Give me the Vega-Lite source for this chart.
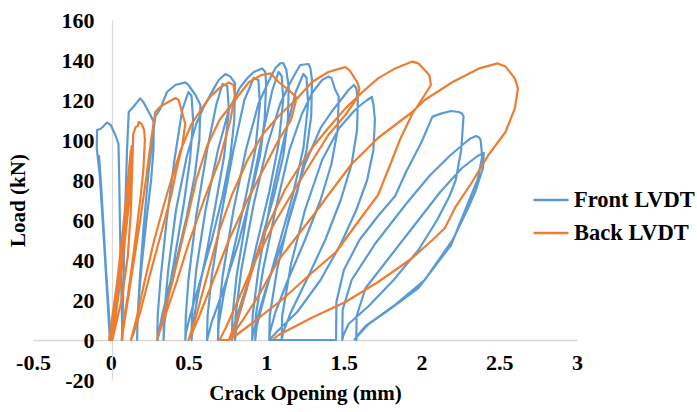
{
  "$schema": "https://vega.github.io/schema/vega-lite/v6.json",
  "width": 544,
  "height": 360,
  "autosize": {"type": "none"},
  "padding": {"left": 33, "top": 20, "right": 120, "bottom": 32},
  "background": "white",
  "config": {
    "view": {"stroke": null},
    "font": "Liberation Serif",
    "axis": {
      "labelFont": "Liberation Serif", "labelFontWeight": "bold", "labelFontSize": 22, "labelColor": "#000000",
      "titleFont": "Liberation Serif", "titleFontWeight": "bold", "titleFontSize": 21, "titleColor": "#000000",
      "grid": false, "ticks": false, "tickSize": 0,
      "domainColor": "#D9D9D9", "domainWidth": 1.3,
      "labelFlush": false, "labelOverlap": false, "labelBound": false
    },
    "legend": {
      "labelFont": "Liberation Serif", "labelFontWeight": "bold", "labelFontSize": 22.5, "labelColor": "#000000"
    }
  },
  "datasets": {
    "front": [
      {"t":1,"x":0,"y":0},{"t":2,"x":-0.03,"y":35},{"t":3,"x":-0.06,"y":75},{"t":4,"x":-0.075,"y":92},{"t":5,"x":-0.05,"y":60},{"t":6,"x":-0.02,"y":20},{"t":7,"x":-0.005,"y":0},{"t":8,"x":-0.04,"y":45},{"t":9,"x":-0.07,"y":82},{"t":10,"x":-0.09,"y":96},{"t":11,"x":-0.088,"y":105},{"t":12,"x":-0.066,"y":105.5},{"t":13,"x":-0.045,"y":107},{"t":14,"x":-0.024,"y":108.7},{"t":15,"x":0,"y":107.5},{"t":16,"x":0.03,"y":102.5},{"t":17,"x":0.05,"y":98},{"t":18,"x":0.055,"y":80},{"t":19,"x":0.06,"y":55},{"t":20,"x":0.067,"y":30},{"t":21,"x":0.072,"y":12},{"t":22,"x":0.075,"y":0},
      {"t":23,"x":0.077,"y":12},{"t":24,"x":0.085,"y":40},{"t":25,"x":0.095,"y":70},{"t":26,"x":0.105,"y":95},{"t":27,"x":0.116,"y":114},{"t":28,"x":0.15,"y":117},{"t":29,"x":0.19,"y":120.8},{"t":30,"x":0.21,"y":119},{"t":31,"x":0.255,"y":112.5},{"t":32,"x":0.277,"y":109},{"t":33,"x":0.275,"y":95},{"t":34,"x":0.26,"y":80},{"t":35,"x":0.23,"y":60},{"t":36,"x":0.2,"y":38},{"t":37,"x":0.18,"y":20},{"t":38,"x":0.172,"y":8},{"t":39,"x":0.17,"y":0},
      {"t":40,"x":0.172,"y":10},{"t":41,"x":0.185,"y":28},{"t":42,"x":0.21,"y":55},{"t":43,"x":0.245,"y":85},{"t":44,"x":0.287,"y":111.7},{"t":45,"x":0.32,"y":115.8},{"t":46,"x":0.362,"y":124},{"t":47,"x":0.416,"y":127.5},{"t":48,"x":0.48,"y":128.8},{"t":49,"x":0.5,"y":127.5},{"t":50,"x":0.545,"y":122.5},{"t":51,"x":0.577,"y":117.5},{"t":52,"x":0.57,"y":100},{"t":53,"x":0.54,"y":82},{"t":54,"x":0.49,"y":62},{"t":55,"x":0.43,"y":42},{"t":56,"x":0.37,"y":25},{"t":57,"x":0.33,"y":12},{"t":58,"x":0.31,"y":4},{"t":59,"x":0.3,"y":0},
      {"t":60,"x":0.302,"y":12},{"t":61,"x":0.32,"y":30},{"t":62,"x":0.36,"y":60},{"t":63,"x":0.41,"y":90},{"t":64,"x":0.46,"y":115},{"t":65,"x":0.5,"y":124},{"t":66,"x":0.52,"y":122},{"t":67,"x":0.53,"y":110},{"t":68,"x":0.51,"y":90},{"t":69,"x":0.47,"y":68},{"t":70,"x":0.42,"y":45},{"t":71,"x":0.37,"y":22},{"t":72,"x":0.345,"y":8},{"t":73,"x":0.34,"y":0},
      {"t":74,"x":0.343,"y":12},{"t":75,"x":0.37,"y":35},{"t":76,"x":0.42,"y":65},{"t":77,"x":0.49,"y":92},{"t":78,"x":0.55,"y":108},{"t":79,"x":0.6,"y":116.7},{"t":80,"x":0.67,"y":126.7},{"t":81,"x":0.695,"y":130},{"t":82,"x":0.738,"y":133},{"t":83,"x":0.77,"y":131.7},{"t":84,"x":0.8,"y":128.3},{"t":85,"x":0.795,"y":110},{"t":86,"x":0.77,"y":92},{"t":87,"x":0.72,"y":72},{"t":88,"x":0.65,"y":50},{"t":89,"x":0.57,"y":28},{"t":90,"x":0.51,"y":12},{"t":91,"x":0.485,"y":4},{"t":92,"x":0.48,"y":0},
      {"t":93,"x":0.483,"y":12},{"t":94,"x":0.5,"y":30},{"t":95,"x":0.55,"y":62},{"t":96,"x":0.62,"y":95},{"t":97,"x":0.68,"y":118},{"t":98,"x":0.72,"y":128},{"t":99,"x":0.75,"y":127},{"t":100,"x":0.76,"y":115},{"t":101,"x":0.73,"y":92},{"t":102,"x":0.68,"y":70},{"t":103,"x":0.62,"y":45},{"t":104,"x":0.56,"y":22},{"t":105,"x":0.53,"y":8},{"t":106,"x":0.52,"y":0},
      {"t":107,"x":0.523,"y":12},{"t":108,"x":0.55,"y":35},{"t":109,"x":0.61,"y":65},{"t":110,"x":0.69,"y":95},{"t":111,"x":0.76,"y":115},{"t":112,"x":0.83,"y":126},{"t":113,"x":0.88,"y":131},{"t":114,"x":0.92,"y":134},{"t":115,"x":0.974,"y":135.8},{"t":116,"x":0.995,"y":134},{"t":117,"x":1,"y":128},{"t":118,"x":0.99,"y":110},{"t":119,"x":0.96,"y":92},{"t":120,"x":0.9,"y":72},{"t":121,"x":0.82,"y":48},{"t":122,"x":0.72,"y":24},{"t":123,"x":0.65,"y":9},{"t":124,"x":0.63,"y":3},{"t":125,"x":0.62,"y":0},
      {"t":126,"x":0.623,"y":12},{"t":127,"x":0.65,"y":32},{"t":128,"x":0.71,"y":62},{"t":129,"x":0.79,"y":95},{"t":130,"x":0.86,"y":120},{"t":131,"x":0.92,"y":131},{"t":132,"x":0.95,"y":130},{"t":133,"x":0.96,"y":118},{"t":134,"x":0.93,"y":95},{"t":135,"x":0.87,"y":72},{"t":136,"x":0.8,"y":48},{"t":137,"x":0.73,"y":24},{"t":138,"x":0.695,"y":8},{"t":139,"x":0.69,"y":0},
      {"t":140,"x":0.693,"y":12},{"t":141,"x":0.72,"y":32},{"t":142,"x":0.79,"y":65},{"t":143,"x":0.87,"y":95},{"t":144,"x":0.95,"y":118},{"t":145,"x":1.02,"y":130},{"t":146,"x":1.06,"y":136},{"t":147,"x":1.09,"y":138.3},{"t":148,"x":1.11,"y":138.5},{"t":149,"x":1.13,"y":135},{"t":150,"x":1.145,"y":126.5},{"t":151,"x":1.14,"y":110},{"t":152,"x":1.11,"y":92},{"t":153,"x":1.05,"y":72},{"t":154,"x":0.97,"y":50},{"t":155,"x":0.87,"y":26},{"t":156,"x":0.8,"y":9},{"t":157,"x":0.785,"y":3},{"t":158,"x":0.78,"y":0},
      {"t":159,"x":0.783,"y":12},{"t":160,"x":0.81,"y":32},{"t":161,"x":0.88,"y":65},{"t":162,"x":0.97,"y":100},{"t":163,"x":1.04,"y":125},{"t":164,"x":1.08,"y":134},{"t":165,"x":1.1,"y":132},{"t":166,"x":1.11,"y":120},{"t":167,"x":1.08,"y":98},{"t":168,"x":1.02,"y":74},{"t":169,"x":0.94,"y":48},{"t":170,"x":0.87,"y":24},{"t":171,"x":0.81,"y":8},{"t":172,"x":0.8,"y":0},
      {"t":173,"x":0.803,"y":12},{"t":174,"x":0.84,"y":35},{"t":175,"x":0.92,"y":68},{"t":176,"x":1.01,"y":98},{"t":177,"x":1.09,"y":118},{"t":178,"x":1.15,"y":128},{"t":179,"x":1.2,"y":135},{"t":180,"x":1.22,"y":137.5},{"t":181,"x":1.274,"y":138},{"t":182,"x":1.285,"y":135.8},{"t":183,"x":1.295,"y":130},{"t":184,"x":1.29,"y":112},{"t":185,"x":1.26,"y":95},{"t":186,"x":1.2,"y":74},{"t":187,"x":1.11,"y":50},{"t":188,"x":1,"y":26},{"t":189,"x":0.94,"y":10},{"t":190,"x":0.915,"y":3},{"t":191,"x":0.91,"y":0},
      {"t":192,"x":0.913,"y":12},{"t":193,"x":0.95,"y":35},{"t":194,"x":1.03,"y":70},{"t":195,"x":1.12,"y":102},{"t":196,"x":1.19,"y":124},{"t":197,"x":1.24,"y":133},{"t":198,"x":1.26,"y":131},{"t":199,"x":1.27,"y":118},{"t":200,"x":1.24,"y":96},{"t":201,"x":1.17,"y":72},{"t":202,"x":1.08,"y":47},{"t":203,"x":0.99,"y":22},{"t":204,"x":0.94,"y":7},{"t":205,"x":0.93,"y":0},
      {"t":206,"x":0.933,"y":12},{"t":207,"x":0.98,"y":35},{"t":208,"x":1.06,"y":65},{"t":209,"x":1.15,"y":95},{"t":210,"x":1.23,"y":113},{"t":211,"x":1.3,"y":124},{"t":212,"x":1.36,"y":130},{"t":213,"x":1.4,"y":131.7},{"t":214,"x":1.42,"y":131},{"t":215,"x":1.445,"y":125},{"t":216,"x":1.467,"y":121.7},{"t":217,"x":1.46,"y":105},{"t":218,"x":1.42,"y":88},{"t":219,"x":1.35,"y":70},{"t":220,"x":1.25,"y":50},{"t":221,"x":1.14,"y":30},{"t":222,"x":1.06,"y":14},{"t":223,"x":1.025,"y":4},{"t":224,"x":1.02,"y":0},
      {"t":225,"x":1.023,"y":12},{"t":226,"x":1.07,"y":35},{"t":227,"x":1.15,"y":62},{"t":228,"x":1.25,"y":88},{"t":229,"x":1.35,"y":106},{"t":230,"x":1.42,"y":114},{"t":231,"x":1.48,"y":120},{"t":232,"x":1.53,"y":125},{"t":233,"x":1.564,"y":127.5},{"t":234,"x":1.58,"y":126},{"t":235,"x":1.59,"y":120},{"t":236,"x":1.585,"y":105},{"t":237,"x":1.55,"y":88},{"t":238,"x":1.48,"y":70},{"t":239,"x":1.38,"y":50},{"t":240,"x":1.26,"y":30},{"t":241,"x":1.16,"y":14},{"t":242,"x":1.11,"y":4},{"t":243,"x":1.1,"y":0},
      {"t":244,"x":1.103,"y":12},{"t":245,"x":1.16,"y":38},{"t":246,"x":1.25,"y":65},{"t":247,"x":1.36,"y":90},{"t":248,"x":1.47,"y":106},{"t":249,"x":1.56,"y":114},{"t":250,"x":1.6,"y":117},{"t":251,"x":1.65,"y":120},{"t":252,"x":1.68,"y":121.5},{"t":253,"x":1.69,"y":118},{"t":254,"x":1.7,"y":110},{"t":255,"x":1.69,"y":95},{"t":256,"x":1.65,"y":80},{"t":257,"x":1.58,"y":65},{"t":258,"x":1.48,"y":48},{"t":259,"x":1.35,"y":30},{"t":260,"x":1.2,"y":14},{"t":261,"x":1.08,"y":5},{"t":262,"x":1.02,"y":0},{"t":263,"x":1.45,"y":0},
      {"t":264,"x":1.452,"y":19},{"t":265,"x":1.5,"y":35},{"t":266,"x":1.6,"y":50},{"t":267,"x":1.72,"y":62},{"t":268,"x":1.83,"y":72},{"t":269,"x":1.9,"y":84},{"t":270,"x":2,"y":99},{"t":271,"x":2.07,"y":111.7},{"t":272,"x":2.13,"y":113.3},{"t":273,"x":2.19,"y":114.5},{"t":274,"x":2.24,"y":114},{"t":275,"x":2.26,"y":113.3},{"t":276,"x":2.27,"y":111.7},{"t":277,"x":2.255,"y":95},{"t":278,"x":2.22,"y":80},{"t":279,"x":2.18,"y":72},{"t":280,"x":2.1,"y":60},{"t":281,"x":1.98,"y":45},{"t":282,"x":1.82,"y":30},{"t":283,"x":1.66,"y":17},{"t":284,"x":1.53,"y":8},{"t":285,"x":1.495,"y":2},{"t":286,"x":1.49,"y":0},
      {"t":287,"x":1.492,"y":15},{"t":288,"x":1.55,"y":30},{"t":289,"x":1.7,"y":48},{"t":290,"x":1.9,"y":68},{"t":291,"x":2.05,"y":82},{"t":292,"x":2.18,"y":92},{"t":293,"x":2.27,"y":98},{"t":294,"x":2.315,"y":100.8},{"t":295,"x":2.35,"y":102},{"t":296,"x":2.37,"y":101.3},{"t":297,"x":2.38,"y":100},{"t":298,"x":2.39,"y":91.7},{"t":299,"x":2.36,"y":80},{"t":300,"x":2.32,"y":72.5},{"t":301,"x":2.19,"y":47.5},{"t":302,"x":1.98,"y":26},{"t":303,"x":1.77,"y":14},{"t":304,"x":1.64,"y":7},{"t":305,"x":1.585,"y":2},{"t":306,"x":1.58,"y":0},
      {"t":307,"x":1.582,"y":12},{"t":308,"x":1.64,"y":26},{"t":309,"x":1.8,"y":42},{"t":310,"x":1.98,"y":60},{"t":311,"x":2.12,"y":74},{"t":312,"x":2.26,"y":86},{"t":313,"x":2.36,"y":92},{"t":314,"x":2.4,"y":93.5},{"t":315,"x":2.395,"y":86},{"t":316,"x":2.35,"y":75},{"t":317,"x":2.3,"y":66},{"t":318,"x":2.2,"y":50},{"t":319,"x":2.02,"y":30},{"t":320,"x":1.82,"y":17},{"t":321,"x":1.66,"y":8},{"t":322,"x":1.6,"y":3},{"t":323,"x":1.565,"y":0}
    ],
    "back": [
      {"t":1,"x":0,"y":0},{"t":2,"x":0.06,"y":40},{"t":3,"x":0.11,"y":80},{"t":4,"x":0.13,"y":95},{"t":5,"x":0.125,"y":85},{"t":6,"x":0.08,"y":50},{"t":7,"x":0.03,"y":15},{"t":8,"x":0,"y":0},{"t":9,"x":0.05,"y":35},{"t":10,"x":0.1,"y":70},{"t":11,"x":0.135,"y":97},{"t":12,"x":0.13,"y":88},{"t":13,"x":0.09,"y":55},{"t":14,"x":0.04,"y":20},{"t":15,"x":-0.01,"y":0},{"t":16,"x":0.07,"y":45},{"t":17,"x":0.12,"y":82},{"t":18,"x":0.14,"y":94},{"t":19,"x":0.12,"y":70},{"t":20,"x":0.06,"y":28},{"t":21,"x":0.01,"y":0},{"t":22,"x":0.04,"y":25},{"t":23,"x":0.09,"y":60},{"t":24,"x":0.125,"y":90},{"t":25,"x":0.115,"y":72},{"t":26,"x":0.07,"y":38},{"t":27,"x":0.02,"y":5},{"t":28,"x":0.01,"y":0},
      {"t":29,"x":0.07,"y":20},{"t":30,"x":0.11,"y":42},{"t":31,"x":0.13,"y":65},{"t":32,"x":0.14,"y":90},{"t":33,"x":0.145,"y":103},{"t":34,"x":0.16,"y":106.5},{"t":35,"x":0.175,"y":107},{"t":36,"x":0.18,"y":109},{"t":37,"x":0.2,"y":108},{"t":38,"x":0.215,"y":105},{"t":39,"x":0.22,"y":100},{"t":40,"x":0.21,"y":85},{"t":41,"x":0.19,"y":70},{"t":42,"x":0.15,"y":45},{"t":43,"x":0.11,"y":22},{"t":44,"x":0.08,"y":8},{"t":45,"x":0.07,"y":0},
      {"t":46,"x":0.1,"y":15},{"t":47,"x":0.14,"y":35},{"t":48,"x":0.19,"y":60},{"t":49,"x":0.23,"y":82},{"t":50,"x":0.26,"y":100},{"t":51,"x":0.287,"y":114},{"t":52,"x":0.32,"y":116.7},{"t":53,"x":0.37,"y":119},{"t":54,"x":0.416,"y":121},{"t":55,"x":0.437,"y":120},{"t":56,"x":0.465,"y":112},{"t":57,"x":0.48,"y":108},{"t":58,"x":0.46,"y":97},{"t":59,"x":0.42,"y":84},{"t":60,"x":0.39,"y":72.5},{"t":61,"x":0.32,"y":52},{"t":62,"x":0.25,"y":32},{"t":63,"x":0.19,"y":14},{"t":64,"x":0.15,"y":4},{"t":65,"x":0.13,"y":0},
      {"t":66,"x":0.17,"y":12},{"t":67,"x":0.22,"y":30},{"t":68,"x":0.28,"y":50},{"t":69,"x":0.36,"y":72.5},{"t":70,"x":0.45,"y":95},{"t":71,"x":0.52,"y":108},{"t":72,"x":0.587,"y":115.8},{"t":73,"x":0.64,"y":121.7},{"t":74,"x":0.705,"y":126.3},{"t":75,"x":0.76,"y":128.8},{"t":76,"x":0.79,"y":127.5},{"t":77,"x":0.8,"y":122.5},{"t":78,"x":0.77,"y":110},{"t":79,"x":0.7,"y":90},{"t":80,"x":0.6,"y":70},{"t":81,"x":0.5,"y":48},{"t":82,"x":0.42,"y":28},{"t":83,"x":0.35,"y":12},{"t":84,"x":0.31,"y":3},{"t":85,"x":0.3,"y":0},
      {"t":86,"x":0.34,"y":12},{"t":87,"x":0.4,"y":30},{"t":88,"x":0.46,"y":50},{"t":89,"x":0.5,"y":63},{"t":90,"x":0.55,"y":80},{"t":91,"x":0.62,"y":97},{"t":92,"x":0.7,"y":110},{"t":93,"x":0.76,"y":116},{"t":94,"x":0.82,"y":122},{"t":95,"x":0.89,"y":129},{"t":96,"x":0.97,"y":132.5},{"t":97,"x":1.03,"y":133.3},{"t":98,"x":1.08,"y":129},{"t":99,"x":1.145,"y":125},{"t":100,"x":1.19,"y":121.7},{"t":101,"x":1.19,"y":119},{"t":102,"x":1.16,"y":110},{"t":103,"x":1.08,"y":100},{"t":104,"x":0.98,"y":85},{"t":105,"x":0.88,"y":70},{"t":106,"x":0.76,"y":50},{"t":107,"x":0.66,"y":30},{"t":108,"x":0.57,"y":12},{"t":109,"x":0.52,"y":3},{"t":110,"x":0.5,"y":0},
      {"t":111,"x":0.55,"y":12},{"t":112,"x":0.62,"y":32},{"t":113,"x":0.7,"y":55},{"t":114,"x":0.78,"y":72.5},{"t":115,"x":0.88,"y":90},{"t":116,"x":0.98,"y":103},{"t":117,"x":1.08,"y":112},{"t":118,"x":1.19,"y":120},{"t":119,"x":1.295,"y":129},{"t":120,"x":1.4,"y":134},{"t":121,"x":1.48,"y":135.8},{"t":122,"x":1.51,"y":136.5},{"t":123,"x":1.54,"y":134.5},{"t":124,"x":1.585,"y":129},{"t":125,"x":1.6,"y":125.8},{"t":126,"x":1.585,"y":120.8},{"t":127,"x":1.51,"y":112.5},{"t":128,"x":1.4,"y":102.5},{"t":129,"x":1.3,"y":90},{"t":130,"x":1.18,"y":75},{"t":131,"x":1.05,"y":58},{"t":132,"x":0.92,"y":38},{"t":133,"x":0.82,"y":20},{"t":134,"x":0.74,"y":6},{"t":135,"x":0.7,"y":0},{"t":136,"x":0.76,"y":0},
      {"t":137,"x":0.82,"y":12},{"t":138,"x":0.9,"y":32},{"t":139,"x":0.98,"y":52},{"t":140,"x":1.04,"y":62},{"t":141,"x":1.12,"y":75},{"t":142,"x":1.2,"y":85},{"t":143,"x":1.295,"y":96},{"t":144,"x":1.4,"y":106},{"t":145,"x":1.51,"y":115.8},{"t":146,"x":1.62,"y":124},{"t":147,"x":1.72,"y":130.8},{"t":148,"x":1.83,"y":135.8},{"t":149,"x":1.94,"y":139.2},{"t":150,"x":1.98,"y":138.3},{"t":151,"x":2.05,"y":132.5},{"t":152,"x":2.06,"y":127.5},{"t":153,"x":2.02,"y":122.5},{"t":154,"x":1.94,"y":113},{"t":155,"x":1.86,"y":100},{"t":156,"x":1.8,"y":88},{"t":157,"x":1.72,"y":72.5},{"t":158,"x":1.6,"y":60},{"t":159,"x":1.45,"y":44},{"t":160,"x":1.3,"y":34},{"t":161,"x":1.1,"y":20},{"t":162,"x":0.92,"y":9},{"t":163,"x":0.8,"y":2},{"t":164,"x":0.76,"y":0},
      {"t":165,"x":0.85,"y":10},{"t":166,"x":0.95,"y":22},{"t":167,"x":1.08,"y":40},{"t":168,"x":1.2,"y":52},{"t":169,"x":1.3,"y":62},{"t":170,"x":1.4,"y":72.5},{"t":171,"x":1.55,"y":88},{"t":172,"x":1.72,"y":101},{"t":173,"x":1.94,"y":114},{"t":174,"x":2.02,"y":120},{"t":175,"x":2.2,"y":129},{"t":176,"x":2.37,"y":135.8},{"t":177,"x":2.49,"y":138.3},{"t":178,"x":2.54,"y":136.7},{"t":179,"x":2.6,"y":130.8},{"t":180,"x":2.62,"y":125.8},{"t":181,"x":2.6,"y":115.8},{"t":182,"x":2.54,"y":104},{"t":183,"x":2.43,"y":92.5},{"t":184,"x":2.325,"y":79},{"t":185,"x":2.22,"y":66.7},{"t":186,"x":2.15,"y":56},{"t":187,"x":2.07,"y":50},{"t":188,"x":1.94,"y":41},{"t":189,"x":1.85,"y":36},{"t":190,"x":1.72,"y":29},{"t":191,"x":1.51,"y":19},{"t":192,"x":1.29,"y":11},{"t":193,"x":1.08,"y":2.5},{"t":194,"x":1.04,"y":0}
    ]
  },
  "layer": [
    {
      "data": {"name": "front"},
      "mark": {"type": "line", "strokeWidth": 2.2, "strokeJoin": "round"},
      "encoding": {
        "x": {
          "field": "x", "type": "quantitative",
          "scale": {"domain": [-0.5, 3], "nice": false, "zero": false},
          "axis": {
            "title": "Crack Opening (mm)", "values": [-0.5, 0, 0.5, 1, 1.5, 2, 2.5, 3], "tickCount": 12,
            "format": "~g", "labelExpr": "replace(datum.label, '\u2212', '-')",
            "labelOverlap": false, "labelFlush": false, "labelBound": false,
            "offset": -40, "labelPadding": 12,
            "titleX": 272, "titleY": 53, "titleAnchor": null, "titleAlign": "center", "titleBaseline": "middle"
          }
        },
        "y": {
          "field": "y", "type": "quantitative",
          "scale": {"domain": [-20, 160], "nice": false, "zero": false},
          "axis": {
            "title": "Load (kN)", "values": [-20, 0, 20, 40, 60, 80, 100, 120, 140, 160], "tickCount": 12,
            "format": "d", "labelExpr": "replace(datum.label, '\u2212', '-')",
            "labelOverlap": false, "labelFlush": false, "labelBound": false,
            "offset": -79, "labelPadding": 18,
            "titleX": -94, "titleY": 180, "titleAngle": -90, "titleAlign": "center", "titleBaseline": "middle"
          }
        },
        "order": {"field": "t", "type": "quantitative"},
        "color": {
          "datum": "Front LVDT", "type": "nominal",
          "scale": {"domain": ["Front LVDT", "Back LVDT"], "range": ["#5B9BD5", "#ED7D31"]},
          "legend": {
            "title": null, "orient": "none", "legendX": 499, "legendY": 161,
            "symbolType": "stroke", "symbolSize": 1225, "symbolStrokeWidth": 2.5,
            "labelOffset": 4, "padding": 0, "rowPadding": 2
          }
        }
      }
    },
    {
      "data": {"name": "back"},
      "mark": {"type": "line", "strokeWidth": 2.2, "strokeJoin": "round"},
      "encoding": {
        "x": {"field": "x", "type": "quantitative"},
        "y": {"field": "y", "type": "quantitative"},
        "order": {"field": "t", "type": "quantitative"},
        "color": {"datum": "Back LVDT", "type": "nominal"}
      }
    }
  ]
}
